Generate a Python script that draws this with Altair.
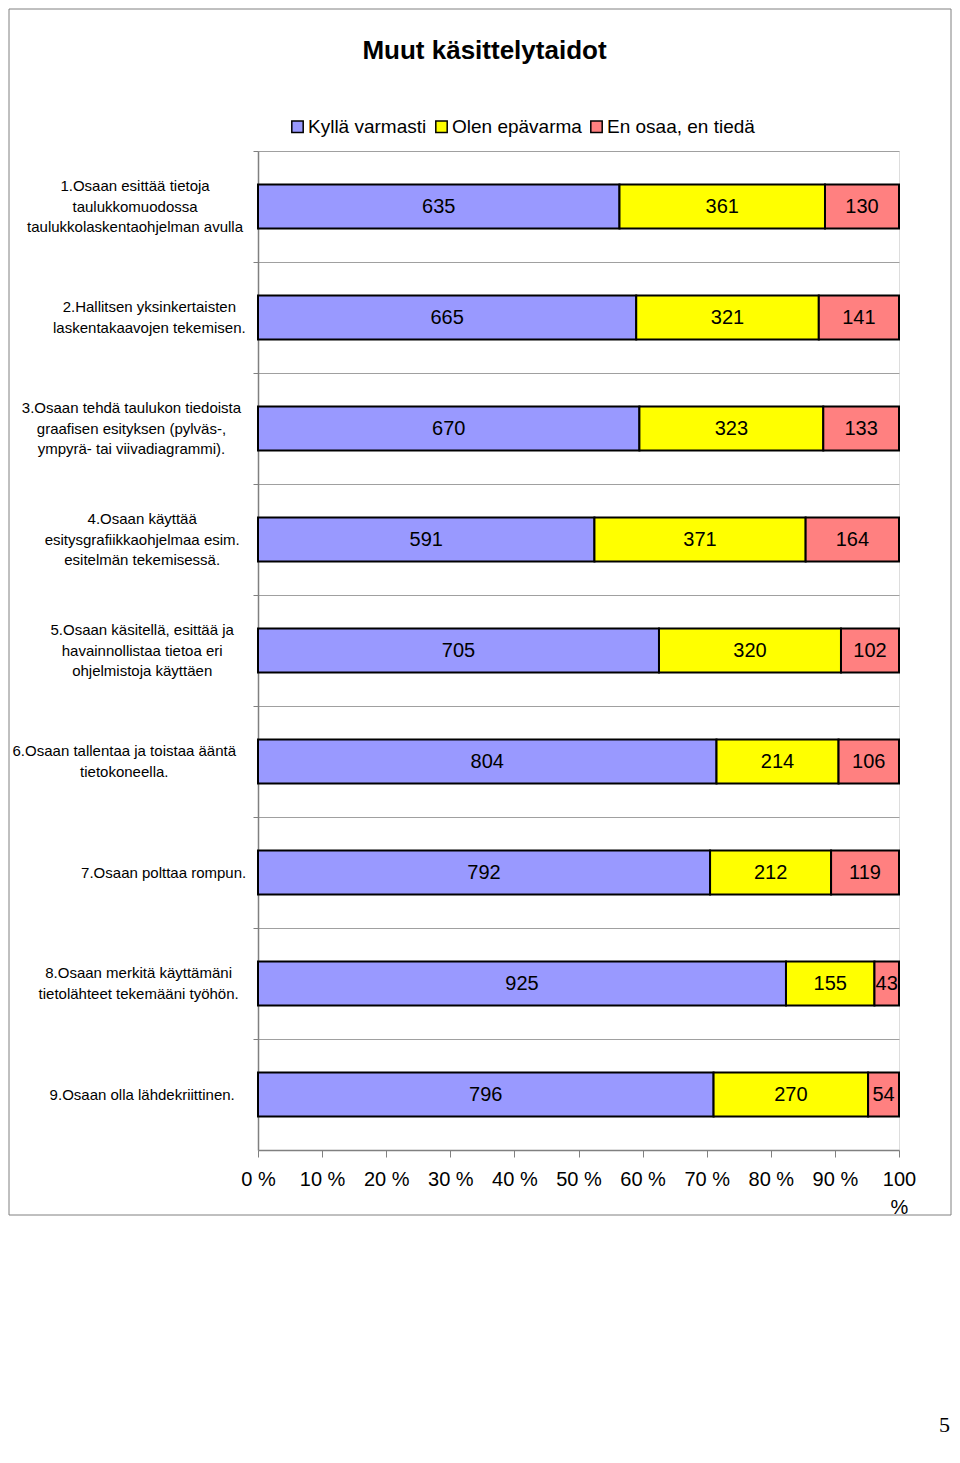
import altair as alt
import pandas as pd

categories = [
    "1.Osaan esittää tietoja|taulukkomuodossa|taulukkolaskentaohjelman avulla",
    "2.Hallitsen yksinkertaisten|laskentakaavojen tekemisen.",
    "3.Osaan tehdä taulukon tiedoista|graafisen esityksen (pylväs-,|ympyrä- tai viivadiagrammi).",
    "4.Osaan käyttää|esitysgrafiikkaohjelmaa esim.|esitelmän tekemisessä.",
    "5.Osaan käsitellä, esittää ja|havainnollistaa tietoa eri|ohjelmistoja käyttäen",
    "6.Osaan tallentaa ja toistaa ääntä|tietokoneella.",
    "7.Osaan polttaa rompun.",
    "8.Osaan merkitä käyttämäni|tietolähteet tekemääni työhön.",
    "9.Osaan olla lähdekriittinen.",
]
series = ["Kyllä varmasti", "Olen epävarma", "En osaa, en tiedä"]
kylla = [635, 665, 670, 591, 705, 804, 792, 925, 796]
olen = [361, 321, 323, 371, 320, 214, 212, 155, 270]
en = [130, 141, 133, 164, 102, 106, 119, 43, 54]
colors = ["#9999FF", "#FFFF00", "#FF8080"]
tick_values = [0, 0.1, 0.2, 0.3, 0.4, 0.5, 0.6, 0.7, 0.8, 0.9, 1.0]
title_text = "Muut käsittelytaidot"

rows = []
for i, c in enumerate(categories):
    for j, vals in enumerate([kylla, olen, en]):
        rows.append({"cat": c, "series": series[j], "order": j, "value": vals[i]})
df = pd.DataFrame(rows)

lab_df = pd.DataFrame({
    "cat": categories,
    "maxlen": [max(len(s) for s in c.split("|")) for c in categories],
    "nlines": [len(c.split("|")) for c in categories],
})

FONT = "Liberation Sans"
LINE_H = 20.5
PLOT_W, PLOT_H = 641, 999
BAND = PLOT_H / len(categories)

y_enc = alt.Y(
    "cat:N", sort=categories, title=None,
    scale=alt.Scale(paddingInner=0, paddingOuter=0),
    axis=alt.Axis(labels=False, bandPosition=0, ticks=True, tickSize=5,
                  grid=True, gridColor="#A0A0A0", gridWidth=1,
                  domainColor="#808080", tickColor="#808080", domainWidth=1.5),
)

x_scale = alt.Scale(domain=[0, 1], nice=False, zero=True)
x_axis = alt.Axis(values=tick_values,
                  labelExpr="datum.value >= 1 ? ['100', '%'] : round(datum.value * 100) + ' %'",
                  labelFontSize=20, labelColor="black", labelPadding=12,
                  labelLineHeight=28, labelBaseline="top", labelFlush=False,
                  labelOverlap=False, tickSize=7, tickColor="#808080",
                  domainColor="#808080", domainWidth=1.5, grid=False, title=None,
                  labelFont=FONT)

base = alt.Chart(df).transform_stack(
    stack="value", as_=["x0", "x1"], groupby=["cat"],
    sort=[alt.SortField("order")], offset="normalize",
).transform_calculate(mid="(datum.x0 + datum.x1) / 2")

bars = base.mark_bar(size=44, stroke="black", strokeWidth=2).encode(
    y=y_enc,
    x=alt.X("x0:Q", scale=x_scale, axis=x_axis),
    x2="x1:Q",
    color=alt.Color("series:N", scale=alt.Scale(domain=series, range=colors),
                    legend=alt.Legend(orient="none", legendX=30, legendY=-34,
                                      direction="horizontal", title=None,
                                      labelFontSize=19, labelFont=FONT, labelColor="black",
                                      symbolType="square", symbolSize=130,
                                      symbolStrokeColor="black", symbolStrokeWidth=1.5,
                                      symbolOpacity=1, columnPadding=5, labelOffset=1,
                                      padding=0)),
)

values_txt = base.mark_text(fontSize=20, font=FONT, color="black",
                            baseline="middle", align="center").encode(
    y=y_enc,
    x=alt.X("mid:Q", scale=x_scale, axis=x_axis),
    text="value:Q",
)

inner = alt.layer(bars, values_txt)

cat_labels = alt.Chart(lab_df).transform_calculate(
    lx="-12 - datum.maxlen * 3.58",
    ly="%s / 2 - (datum.nlines - 1) * %s / 2" % (BAND, LINE_H),
).mark_text(lineBreak="|", align="center", baseline="middle", fontSize=15,
            lineHeight=LINE_H, font=FONT, color="black").encode(
    y=y_enc,
    yOffset=alt.YOffset("ly:Q", scale=None),
    x=alt.X("lx:Q", scale=None, axis=None),
    text="cat:N",
)

title_layer = alt.Chart(pd.DataFrame({"t": [title_text]})).mark_text(
    fontSize=26, fontWeight="bold", font=FONT, align="center", baseline="middle", color="black"
).encode(x=alt.value(226.5), y=alt.value(-100), text="t:N")

border = alt.Chart(pd.DataFrame({"a": [0]})).mark_rect(
    filled=False, stroke="#808080", strokeWidth=1
).encode(x=alt.value(-249), x2=alt.value(693), y=alt.value(-142), y2=alt.value(1064))

page_num = alt.Chart(pd.DataFrame({"t": ["5"]})).mark_text(
    fontSize=22, font="Liberation Serif", align="right", baseline="bottom", color="black"
).encode(x=alt.value(692), y=alt.value(1286), text="t:N")

chart = alt.layer(border, inner, cat_labels, title_layer, page_num).resolve_scale(
    x="independent"
).properties(
    width=PLOT_W, height=PLOT_H,
    autosize=alt.AutoSizeParams(type="none"),
    padding={"left": 250, "top": 143, "right": 53, "bottom": 290},
).configure_view(stroke="#A0A0A0", strokeWidth=1.5).configure(font=FONT, background="white")

chart.save("out.html", embed_options={"renderer": "svg", "actions": False})
